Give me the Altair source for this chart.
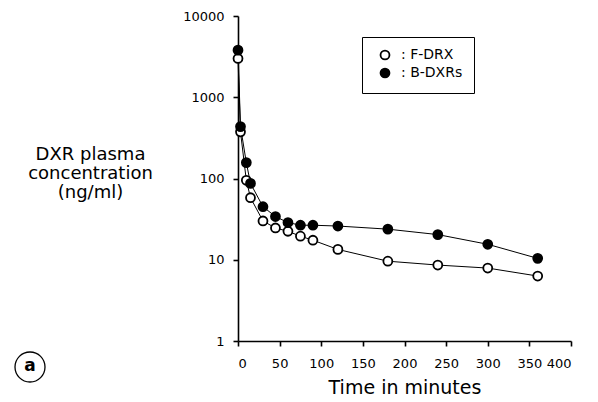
import altair as alt
import pandas as pd

times = [0, 3, 10, 15, 30, 45, 60, 75, 90, 120, 180, 240, 300, 360]
f_drx = [3000, 375, 95, 58, 30, 24.6, 22.4, 19.5, 17.4, 13.4, 9.6, 8.6, 7.9, 6.3]
b_dxrs = [3800, 435, 157, 87, 45, 34, 28.7, 26.6, 26.6, 26.0, 23.8, 20.4, 15.5, 10.4]
series_names = ["F-DRX", "B-DXRs"]
x_ticks = [0, 50, 100, 150, 200, 250, 300, 350, 400]
y_ticks = [1, 10, 100, 1000, 10000]

rows = []
for t, v in zip(times, f_drx):
    rows.append({"time": t, "conc": v, "series": series_names[0]})
for t, v in zip(times, b_dxrs):
    rows.append({"time": t, "conc": v, "series": series_names[1]})
df = pd.DataFrame(rows)

FONT = "DejaVu Sans"

x_enc = alt.X(
    "time:Q",
    scale=alt.Scale(domain=[0, 400], nice=False),
    axis=alt.Axis(
        values=x_ticks, title="Time in minutes", titleFontSize=19,
        titleFontWeight="normal", titlePadding=8, labelPadding=11,
        labelFontSize=13, tickSize=5,
    ),
)
y_enc = alt.Y(
    "conc:Q",
    scale=alt.Scale(type="log", domain=[1, 10000], nice=False),
    axis=alt.Axis(
        values=y_ticks, format="d",
        title=["DXR plasma", "concentration", "(ng/ml)"],
        titleAngle=0, titleAlign="center", titleBaseline="top",
        titleX=-148, titleY=129, titleFontSize=18, titleFontWeight="normal",
        titleLineHeight=19, labelPadding=9, labelFontSize=13, tickSize=5,
    ),
)

base = alt.Chart(df)
lines = base.mark_line(color="black", strokeWidth=1).encode(
    x=x_enc, y=y_enc, detail="series:N"
)
points = base.mark_point(
    shape="circle", filled=True, stroke="black", strokeWidth=1.8,
    size=80, opacity=1,
).encode(
    x=x_enc, y=y_enc,
    fill=alt.Fill(
        "series:N",
        scale=alt.Scale(domain=series_names, range=["white", "black"]),
        legend=alt.Legend(
            title=None, orient="none", legendX=124, legendY=21,
            strokeColor="black", padding=11, symbolOffset=5,
            labelExpr="': ' + datum.label + '       '",
            labelFontSize=14, symbolSize=80, symbolStrokeColor="black",
            symbolStrokeWidth=1.8, rowPadding=0, labelOffset=9,
            symbolType="circle",
        ),
    ),
)

lab_df = pd.DataFrame({"t": ["a"]})
circ = alt.Chart(lab_df).mark_point(
    shape="circle", size=900, filled=False, stroke="black", strokeWidth=1.3, opacity=1
).encode(x=alt.value(-208), y=alt.value(351))
txt = alt.Chart(lab_df).mark_text(
    fontSize=17, fontWeight="bold", font=FONT, color="black", baseline="middle", align="center"
).encode(x=alt.value(-208), y=alt.value(350), text="t:N")

chart = alt.layer(lines, points, circ, txt).properties(
    width=333, height=325,
    autosize=alt.AutoSizeParams(type="none"),
    padding={"left": 230, "top": 8, "right": 15, "bottom": 58},
).configure_view(stroke=None).configure_axis(
    grid=False, domainColor="black", domainWidth=1.6, tickColor="black",
    tickWidth=1.6, labelColor="black", titleColor="black",
    labelFont=FONT, titleFont=FONT,
).configure_legend(labelFont=FONT, labelColor="black")

chart.save("out.html", embed_options={"renderer": "svg", "actions": False})
